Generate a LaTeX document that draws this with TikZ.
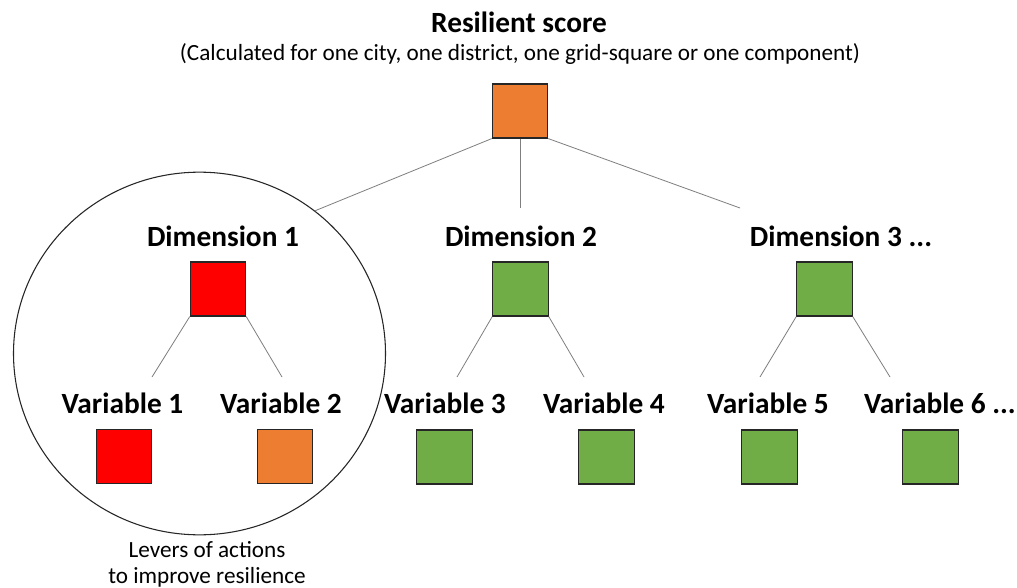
\documentclass[tikz,border=0pt]{standalone}
\usepackage{fontspec}
\setmainfont{Carlito}
\usetikzlibrary{shapes.geometric}
\definecolor{cred}{HTML}{FF0000}
\definecolor{corange}{HTML}{ED7D31}
\definecolor{cgreen}{HTML}{70AD47}
\definecolor{cline}{HTML}{7F7F7F}
\tikzset{
  sq/.style={draw=black!85, line width=0.9pt, inner sep=0pt, minimum width=41.5pt, minimum height=40.5pt},
  hdr/.style={font=\fontsize{22}{26}\selectfont\bfseries, inner sep=0pt},
  sub/.style={font=\fontsize{17.4}{21}\selectfont, inner sep=0pt},
  conn/.style={draw=cline, line width=0.6pt},
  ring/.style={draw=black!85, line width=0.8pt, ellipse, inner sep=0pt, minimum width=279pt, minimum height=272pt}
}
\begin{document}
\begin{tikzpicture}[x=0.75pt,y=-0.75pt]
\useasboundingbox[fill=white] (0,0) rectangle (1017,588);
% circle
\node[ring] (circ) at (199.5,353.5) {};
% titles
\node[hdr] (title) at (519,22) {Resilient score};
\node[sub] (subtitle) at (520,54) {(Calculated for one city, one district, one grid-square or one component)};
% top
\node[sq, fill=corange] (top) at (520,111) {};
% dimensions
\node[hdr] (d1l) at (223,236) {Dimension 1};
\node[hdr] (d2l) at (521,236) {Dimension 2};
\node[hdr] (d3l) at (841,236) {Dimension 3 ...};
\node[sq, fill=cred] (d1) at (218,289) {};
\node[sq, fill=cgreen] (d2) at (520.5,289) {};
\node[sq, fill=cgreen] (d3) at (824.5,289) {};
% variables
\node[hdr] (v1l) at (122.5,403) {Variable 1};
\node[hdr] (v2l) at (281,403) {Variable 2};
\node[hdr] (v3l) at (445,403) {Variable 3};
\node[hdr] (v4l) at (604,403) {Variable 4};
\node[hdr] (v5l) at (768,403) {Variable 5};
\node[hdr] (v6l) at (940,403) {Variable 6 ...};
\node[sq, fill=cred] (v1) at (124,456.5) {};
\node[sq, fill=corange] (v2) at (285,456.5) {};
\node[sq, fill=cgreen] (v3) at (444.5,457) {};
\node[sq, fill=cgreen] (v4) at (606.5,457) {};
\node[sq, fill=cgreen] (v5) at (769.5,457) {};
\node[sq, fill=cgreen] (v6) at (930.5,457) {};
% levers
\node[sub] (lev1) at (207,550) {Levers of actions};
\node[sub] (lev2) at (207,577) {to improve resilience};
% coordinates
\coordinate (t2) at (520,208);
\coordinate (t3) at (740,208);
\coordinate (a1) at (152,377);
\coordinate (a2) at (282,377);
\coordinate (b1) at (457,377);
\coordinate (b2) at (584,377);
\coordinate (c1) at (760,377);
\coordinate (c2) at (890,377);
% connectors
\draw[conn] (top.south west) -- (circ.51);
\draw[conn] (top.south) -- (t2);
\draw[conn] (top.south east) -- (t3);
\draw[conn] (d1.south west) -- (a1);
\draw[conn] (d1.south east) -- (a2);
\draw[conn] (d2.south west) -- (b1);
\draw[conn] (d2.south east) -- (b2);
\draw[conn] (d3.south west) -- (c1);
\draw[conn] (d3.south east) -- (c2);
\end{tikzpicture}
\end{document}
